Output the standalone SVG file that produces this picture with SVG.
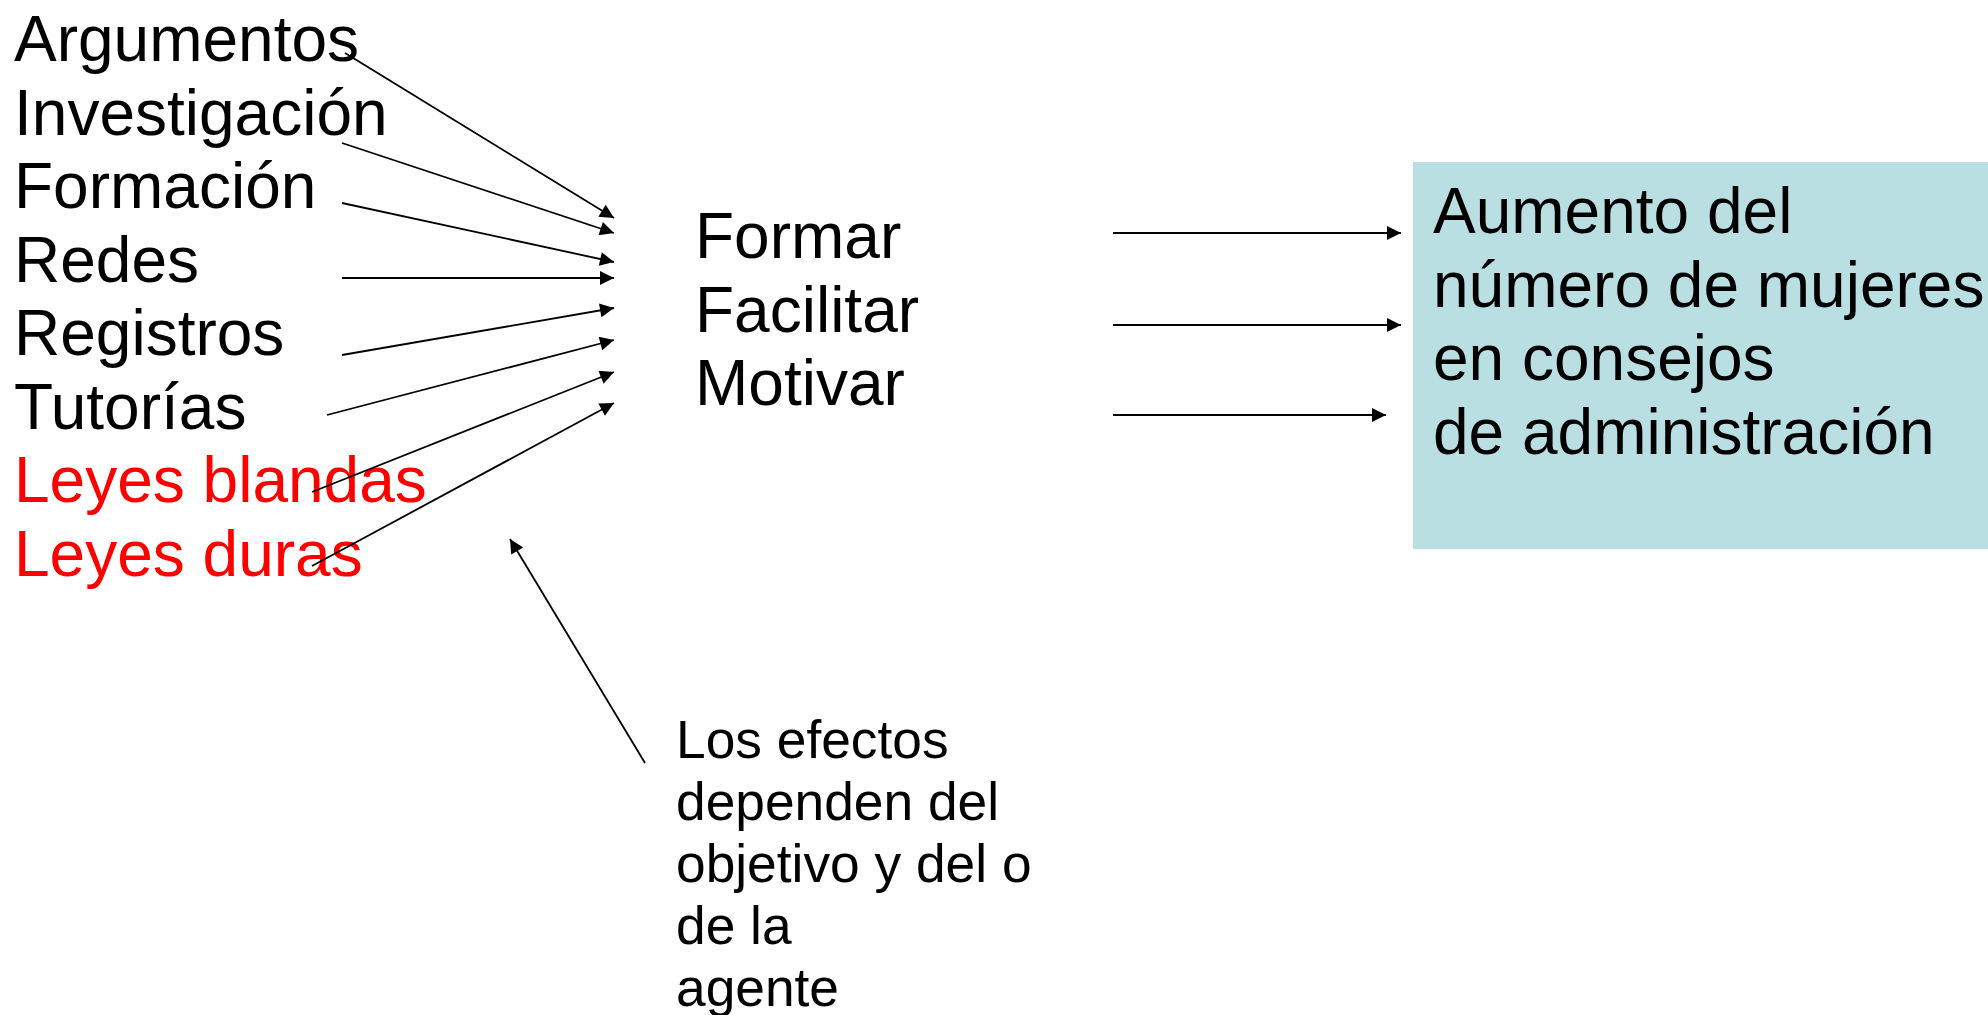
<svg xmlns="http://www.w3.org/2000/svg" width="1988" height="1015" viewBox="0 0 1988 1015">
<style>
text{font-family:"Liberation Sans",Arial,sans-serif;fill:#000}
.big{font-size:64px}
.red{fill:#ff0000}
.small{font-size:53.3px}
.conn line{stroke:#000;stroke-width:1.8;marker-end:url(#ah)}
</style>
<defs>
<marker id="ah" viewBox="0 0 10 10" refX="10" refY="5" markerWidth="17" markerHeight="14" markerUnits="userSpaceOnUse" orient="auto">
<path d="M0,0 L10,5 L0,10 z" fill="#000"/>
</marker>
</defs>
<rect width="1988" height="1015" fill="#fff"/>
<g id="box">
<rect x="1413" y="162" width="575" height="387" fill="#BADFE3"/>
<text class="big" x="1433" y="233">Aumento del</text>
<text class="big" x="1433" y="306.5">número de mujeres</text>
<text class="big" x="1433" y="380">en consejos</text>
<text class="big" x="1433" y="453.5">de administración</text>
</g>
<g id="inputs">
<text class="big" x="14" y="61">Argumentos</text>
<text class="big" x="14" y="134.5">Investigación</text>
<text class="big" x="14" y="208">Formación</text>
<text class="big" x="14" y="281.5">Redes</text>
<text class="big" x="14" y="355">Registros</text>
<text class="big" x="14" y="428.5">Tutorías</text>
<text class="big red" x="14" y="502">Leyes blandas</text>
<text class="big red" x="14" y="575.5">Leyes duras</text>
</g>
<g id="actions">
<text class="big" x="695" y="258">Formar</text>
<text class="big" x="695" y="331.5">Facilitar</text>
<text class="big" x="695" y="405">Motivar</text>
</g>
<g id="note">
<text class="small" x="676" y="758">Los efectos</text>
<text class="small" x="676" y="820">dependen del</text>
<text class="small" x="676" y="882">objetivo y del o</text>
<text class="small" x="676" y="944">de la</text>
<text class="small" x="676" y="1006">agente</text>
</g>
<g id="connectors" class="conn">
<line x1="345" y1="53" x2="614" y2="218"/>
<line x1="342" y1="143" x2="614" y2="233"/>
<line x1="342" y1="203" x2="614" y2="262"/>
<line x1="342" y1="278" x2="614" y2="278"/>
<line x1="342" y1="355" x2="614" y2="308"/>
<line x1="327" y1="415" x2="614" y2="340"/>
<line x1="312" y1="492" x2="614" y2="372"/>
<line x1="312" y1="566" x2="614" y2="403"/>
<line x1="1113" y1="233" x2="1401" y2="233"/>
<line x1="1113" y1="325" x2="1401" y2="325"/>
<line x1="1113" y1="415" x2="1386" y2="415"/>
<line x1="645" y1="763" x2="510" y2="539"/>
</g>
</svg>
